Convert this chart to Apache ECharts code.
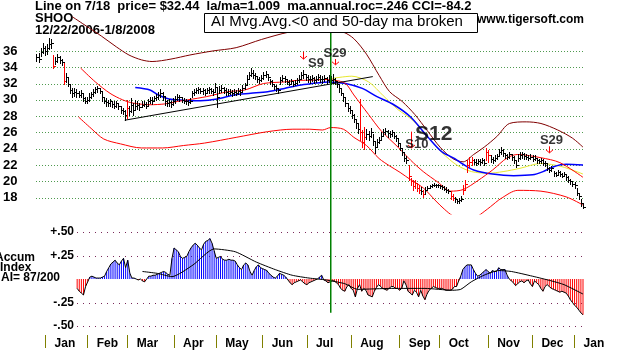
<!DOCTYPE html>
<html><head><meta charset="utf-8">
<script src="https://cdn.jsdelivr.net/npm/echarts@6/dist/echarts.min.js"></script>
<style>html,body{margin:0;padding:0;background:#fff}#c{width:631px;height:352px}</style>
</head><body><div id="c"></div><script>
const FONT = '"Liberation Sans", Arial, sans-serif';

// ---- trading calendar (category axis) ----
const startDate = '2006-12-22', endDate = '2008-01-08';
const holidays = ['2006-12-25','2007-01-01','2007-01-02','2007-01-15','2007-02-19','2007-04-06',
  '2007-05-28','2007-07-04','2007-09-03','2007-11-22','2007-12-25','2008-01-01'];
function tradingDays(){
  const out=[]; let d=new Date(startDate+'T00:00:00Z'); const e=new Date(endDate+'T00:00:00Z');
  while(d<=e){ const s=d.toISOString().slice(0,10); const w=d.getUTCDay();
    if(w!==0&&w!==6&&holidays.indexOf(s)<0) out.push(s); d=new Date(d.getTime()+86400000);}
  return out;
}
const dates = tradingDays();
const monthNames = ['Jan','Feb','Mar','Apr','May','Jun','Jul','Aug','Sep','Oct','Nov','Dec'];

// ---- tick labels ----
const priceTicks = [18,20,22,24,26,28,30,32,34,36];
const accumTicks = [-0.5,-0.25,0.25,0.5];

// ---- daily price bars (one value per trading day) ----
const close = [35.2,35.0,35.9,36.4,36.0,
36.3,36.9,37.0,34.2,34.8,35.2,34.9,34.6,32.3,32.8,32.0,31.2,30.8,31.0,30.9,30.6,30.8,30.2,29.9,30.0,
30.4,30.7,31.0,31.3,31.4,31.1,30.3,29.9,29.7,29.6,29.8,29.5,29.3,29.6,29.2,28.8,28.6,28.2,29.0,
28.6,29.4,28.8,29.2,29.4,29.1,29.4,29.5,29.3,29.8,30.0,29.9,30.2,30.4,30.6,30.9,30.5,29.8,29.6,29.7,29.5,29.8,
30.1,30.4,30.3,30.0,29.9,29.8,29.7,29.9,30.8,31.0,31.2,31.3,31.1,31.2,30.9,31.2,31.3,31.1,31.0,31.6,
30.4,31.2,31.4,31.2,31.0,30.9,31.0,30.8,31.0,30.9,31.1,31.0,31.4,31.8,32.6,33.0,33.3,33.1,32.9,32.6,32.4,32.7,
33.0,33.2,32.8,32.3,32.0,31.7,31.4,31.2,32.4,32.7,32.5,32.2,32.0,32.3,32.0,32.1,32.4,32.6,33.0,33.2,32.8,
32.6,32.5,32.7,32.4,32.5,32.8,32.6,32.5,32.7,32.4,32.6,32.44,32.5,32.3,31.9,31.4,30.9,30.3,29.6,29.0,28.7,
28.2,27.7,27.2,26.4,26.0,24.8,25.4,25.8,25.6,26.0,25.0,24.2,24.8,25.1,25.6,26.0,26.2,25.9,25.8,26.0,25.6,25.3,24.7,
24.1,23.6,22.9,22.6,20.6,20.0,19.4,19.8,19.2,19.0,18.8,18.5,18.9,19.2,19.4,19.5,19.6,19.5,19.5,
19.4,19.3,19.1,19.0,18.8,18.2,18.0,17.8,17.6,17.7,17.9,18.9,19.7,22.0,22.4,22.6,22.4,22.3,22.5,22.4,22.6,22.3,23.6,
23.2,22.8,22.6,22.9,23.1,23.6,23.9,23.5,23.2,23.0,23.3,23.0,22.6,22.0,22.9,23.2,23.3,23.1,23.0,22.9,23.0,
22.8,22.9,22.6,22.5,22.6,22.3,22.2,21.7,21.4,21.6,21.0,20.8,21.1,20.9,20.7,20.9,20.5,20.2,20.0,19.7,
19.5,18.6,18.2,17.4,16.9];
const high = [35.6,35.8,36.4,37.0,36.6,
36.8,37.6,37.5,35.5,35.3,35.6,35.4,35.0,34.5,33.3,32.8,31.9,31.4,31.4,31.3,31.1,31.2,30.7,30.4,30.3,
30.8,31.0,31.3,31.6,31.7,31.5,31.0,30.4,30.2,30.0,30.1,29.9,29.8,29.9,29.6,29.3,29.0,28.8,30.0,
29.2,30.2,29.6,30.0,29.8,29.6,29.8,29.8,29.7,30.1,30.4,30.3,30.5,30.7,31.0,31.3,31.0,30.3,30.0,30.1,29.9,30.2,
30.5,30.7,30.6,30.3,30.2,30.1,30.0,30.2,31.1,31.3,31.5,31.6,31.5,31.5,31.3,31.5,31.6,31.4,31.3,32.1,
31.4,31.7,31.8,31.6,31.4,31.3,31.3,31.2,31.3,31.2,31.4,31.3,31.8,32.1,33.1,33.4,33.9,33.6,33.3,32.9,32.8,33.0,
33.4,33.5,33.2,32.6,32.4,32.0,31.8,31.5,32.8,33.0,32.9,32.6,32.4,32.6,32.3,32.4,32.7,33.0,33.4,33.7,33.2,
33.0,32.9,33.1,32.8,32.9,33.2,33.0,32.9,33.1,32.8,33.0,32.9,33.2,32.7,32.3,31.9,31.4,30.8,30.2,29.6,29.2,
28.6,28.3,27.6,27.2,30.1,26.3,26.7,26.4,26.2,26.5,25.8,25.0,25.2,25.5,26.0,26.4,26.6,26.3,26.2,26.3,26.0,25.7,25.2,
24.6,24.0,23.5,23.1,22.0,20.4,20.2,20.2,19.8,19.5,19.3,19.0,19.3,19.4,19.6,19.7,19.8,19.7,19.7,
19.6,19.5,19.4,19.3,19.1,18.8,18.5,18.1,17.9,18.0,18.2,19.6,20.2,22.6,23.0,23.0,22.8,22.7,22.8,22.7,22.9,22.7,24.1,
23.8,23.2,23.0,23.2,23.4,24.0,24.2,24.0,23.5,23.4,23.6,23.4,23.1,22.6,23.4,23.6,23.6,23.5,23.3,23.2,23.3,
23.2,23.2,22.9,22.8,22.9,22.7,22.5,22.2,21.8,21.9,21.3,21.2,21.4,21.3,21.0,21.2,20.8,20.6,20.3,20.0,
19.9,19.2,18.6,17.8,17.3];
const low = [34.8,34.7,35.4,35.8,35.5,
35.6,36.2,36.4,33.9,34.4,34.7,34.5,34.3,31.9,32.2,31.7,30.8,30.4,30.5,30.4,30.3,30.4,29.9,29.6,29.6,
29.9,30.2,30.5,30.9,31.0,30.8,29.9,29.6,29.3,29.2,29.3,29.1,29.0,29.1,28.9,28.4,28.3,27.5,27.8,
28.2,28.5,28.1,28.8,28.9,28.8,29.1,29.2,29.0,29.4,29.6,29.5,29.8,30.0,30.1,30.4,30.0,29.4,29.2,29.3,29.1,29.4,
29.6,30.0,29.9,29.7,29.6,29.5,29.4,29.6,30.3,30.6,30.8,30.9,30.8,30.7,30.6,30.8,30.9,30.8,30.6,31.0,
29.1,30.8,31.0,30.8,30.6,30.6,30.7,30.5,30.6,30.6,30.7,30.6,31.0,31.3,32.0,32.5,32.9,32.7,32.5,32.2,32.1,32.3,
32.6,32.8,32.4,31.9,31.7,31.3,31.1,30.9,32.0,32.3,32.2,31.9,31.8,31.9,31.7,31.8,32.0,32.2,32.5,32.7,32.4,
32.2,32.1,32.3,32.1,32.2,32.4,32.2,32.1,32.3,32.0,32.2,32.0,32.1,31.9,31.6,31.0,30.6,29.9,29.2,28.6,28.4,
27.8,27.3,26.6,25.9,25.1,24.2,24.0,25.2,25.1,25.4,24.5,23.5,24.3,24.7,25.2,25.6,25.8,25.5,25.4,25.6,25.3,25.0,24.3,
23.8,23.2,22.5,22.2,20.2,19.5,19.0,19.2,18.8,18.6,18.4,18.1,18.5,19.0,19.2,19.3,19.4,19.3,19.3,
19.2,19.1,18.9,18.7,18.6,17.8,17.7,17.5,17.4,17.4,17.6,18.5,19.0,21.2,21.8,22.0,22.1,22.0,22.1,22.0,22.2,22.0,22.6,
22.4,22.4,22.3,22.5,22.7,23.1,23.4,23.1,22.9,22.7,22.9,22.6,22.2,21.8,22.5,22.8,22.9,22.8,22.7,22.6,22.7,
22.5,22.6,22.3,22.2,22.3,22.0,21.9,21.4,21.1,21.3,20.7,20.6,20.8,20.6,20.5,20.6,20.2,19.9,19.7,19.4,
19.2,18.3,17.9,17.0,16.7];
const redDays = [8,13,43,154,155,156,177,178,179,180,181,182,184,197,198,203,204,205,206,207,214,215];

// ---- overlay lines: [trading-day index, value] ----
const upperBand = [[17,40.2],[24,39.0],[31,37.8],[38,36.5],[44,35.5],[50,34.9],[55,34.7],[64,35.0],[73,35.5],[84,36.0],[95,36.4],[107,37.4],[120,38.3],[130,38.6],[140,38.5],[146,38.3],[151,37.5],[157,35.6],[163,33.0],[168,31.0],[174,29.8],[180,28.2],[186,26.2],[192,24.2],[198,22.8],[203,22.4],[208,23.3],[213,24.2],[219,25.5],[225,27.1],[233,27.3],[240,27.1],[248,26.3],[255,25.3],[260,24.2]];
const lowerBand = [[20,27.9],[26,26.5],[32,25.2],[40,24.6],[50,24.1],[60,24.1],[70,24.4],[80,24.7],[95,25.4],[110,26.1],[122,26.4],[130,26.4],[136,26.3],[140,26.6],[146,26.4],[151,25.4],[157,24.4],[163,22.8],[168,21.9],[173,21.1],[178,20.2],[184,19.2],[190,17.6],[194,16.6],[198,15.8],[204,15.3],[209,15.6],[213,16.3],[216,16.9],[221,17.9],[229,18.9],[240,18.8],[252,18.1],[260,17.1]];
const ma21 = [[21,33.9],[28,32.2],[35,30.8],[41,30.0],[46,29.6],[54,29.4],[61,29.5],[67,29.8],[72,30.0],[81,30.4],[91,31.0],[99,31.2],[108,32.0],[118,32.2],[125,32.4],[131,32.4],[136,32.5],[142,32.4],[147,32.0],[151,30.6],[158,28.2],[164,26.2],[172,24.2],[178,22.6],[184,21.2],[191,19.9],[197,18.8],[203,19.0],[210,20.1],[217,21.4],[224,22.9],[229,23.3],[240,22.9],[249,22.3],[260,20.5]];
const ma50 = [[47,31.5],[54,31.2],[58,30.6],[63,30.1],[67,30.0],[72,29.9],[78,29.9],[86,30.1],[94,30.6],[102,30.8],[110,31.0],[118,31.4],[125,31.8],[131,32.0],[139,32.2],[147,32.0],[155,31.4],[162,30.4],[170,29.4],[178,27.9],[186,25.5],[193,23.6],[199,22.8],[203,22.1],[208,21.4],[217,20.9],[227,20.7],[236,20.8],[241,21.2],[246,21.8],[252,22.1],[260,22.0]];
const yellowLine = [[140,32.6],[150,32.9],[158,32.2],[165,30.5],[172,28.8],[179,27.5],[186,25.5],[193,23.5],[200,22.0],[207,21.2],[215,21.0],[222,21.2],[230,21.6],[240,22.2],[250,21.8],[260,20.9]];
const trendLine = [[42,27.5],[160,32.85]];
const markerDay = 140, markerTop = 38.3, markerBottom = 3.9;

// ---- signals ----
const signalText  = ['S9','S29','S12','S10','S29'];
const signalDay   = [133,142,189,181,245];
const signalPrice = [34.5,35.7,25.75,24.5,25.0];
const signalSize  = [13,13,21,13,13];
const arrowDay    = [127,142,178,244];
const arrowTop    = [35.9,35.0,26.1,24.3];
const arrowBottom = [35.0,34.3,24.1,23.5];

// ---- accumulation index ----
const accum = [null,null,null,null,null,null,null,null,null,null,null,null,null,null,null,null,null,null,null,null,
-0.10,-0.13,-0.15,-0.17,-0.08,-0.03,0.02,0.03,0.02,0.01,0.01,0.01,0.02,0.03,0.08,0.12,0.16,0.18,0.20,0.17,
0.15,0.19,0.22,0.12,0.20,0.06,0.01,0.01,0.00,-0.01,0.00,-0.02,-0.03,0.00,0.03,0.03,0.04,0.04,0.05,0.06,
0.07,0.08,0.07,0.05,0.04,0.22,0.33,0.31,0.29,0.24,0.22,0.23,0.24,0.29,0.33,0.36,0.38,0.36,0.33,0.31,
0.37,0.40,0.41,0.43,0.38,0.30,0.22,0.23,0.24,0.21,0.20,0.20,0.21,0.20,0.20,0.19,0.15,0.12,0.10,0.15,
0.17,0.15,0.08,0.04,0.09,0.13,0.15,0.12,0.11,0.10,0.09,0.06,0.04,0.02,0.01,0.03,0.06,0.05,0.04,0.02,
-0.01,-0.04,-0.06,-0.04,-0.03,-0.02,-0.01,-0.03,-0.05,-0.06,-0.04,-0.03,-0.02,-0.01,0.00,0.02,0.04,-0.01,-0.02,-0.04,
-0.03,-0.02,-0.02,-0.04,-0.06,-0.10,-0.12,-0.13,-0.08,-0.06,-0.10,-0.12,-0.19,-0.10,-0.06,-0.13,-0.10,-0.12,-0.17,-0.18,
-0.19,-0.13,-0.09,-0.06,-0.08,-0.10,-0.11,-0.12,-0.10,-0.08,-0.08,-0.10,-0.10,-0.12,-0.10,-0.02,-0.06,-0.13,-0.15,-0.17,
-0.12,-0.14,-0.19,-0.12,-0.18,-0.22,-0.16,-0.12,-0.10,-0.08,-0.09,-0.10,-0.10,-0.10,-0.11,-0.12,-0.12,-0.12,-0.11,-0.08,
-0.08,-0.02,0.03,0.10,0.13,0.15,0.15,0.15,0.10,0.06,0.03,0.04,0.06,0.08,0.10,0.08,0.06,0.09,0.08,0.08,
0.12,0.10,0.10,0.10,0.04,0.00,-0.02,-0.04,-0.07,-0.05,-0.03,-0.02,-0.04,-0.02,-0.01,-0.05,-0.08,-0.02,-0.04,-0.06,
-0.10,-0.13,-0.08,-0.06,-0.08,-0.10,-0.11,-0.12,-0.13,-0.14,-0.13,-0.14,-0.15,-0.18,-0.22,-0.25,-0.28,-0.30,-0.33,-0.36,
-0.38];
const accumMA = [[51,0.08],[58,0.06],[65,0.025],[75,0.15],[85,0.32],[95,0.29],[105,0.18],[114,0.10],[122,0.04],[130,0.01],[138,-0.01],[147,-0.05],[153,-0.11],[169,-0.10],[185,-0.10],[198,-0.12],[202,-0.11],[207,-0.03],[213,0.04],[220,0.09],[226,0.08],[236,0.03],[245,-0.02],[251,-0.06],[260,-0.16]];
const accumStart = 20;

// ---- helpers ----
const pts = arr => arr.map(p => [dates[p[0]], p[1]]);
const isMonthStart = i => i > 0 && dates[i].slice(5,7) !== dates[i-1].slice(5,7);
const lineS = (data, color, width, extra) => Object.assign({
  type:'line', xAxisIndex:0, yAxisIndex:0, data: pts(data), showSymbol:false, symbol:'none',
  smooth:0.3, lineStyle:{color, width}, silent:true, z:2
}, extra||{});
// dotted horizontal gridlines snapped to the pixel grid, positioned through the axis scales
const gridLines = (axisIdx, values, fromIdx, color, dash) => ({
  type:'custom', xAxisIndex:axisIdx, yAxisIndex:axisIdx, silent:true, z:1,
  data: values.map(v=>[fromIdx, v]), encode:{x:0, y:1},
  renderItem:(params, api)=>{
    const a = api.coord([fromIdx, api.value(1)]), b = api.coord([dates.length-1, api.value(1)]);
    const y = Math.round(a[1]) + 0.5;
    return {type:'line', shape:{x1:Math.round(a[0]), y1:y, x2:Math.round(b[0]), y2:y},
      style:{stroke:color, lineWidth:1, lineDash:dash}};
  }
});

const chart = echarts.init(document.getElementById('c'), null, {renderer:'canvas'});
chart.setOption({
  animation:false,
  backgroundColor:'#fff',
  grid:[
    {left:35, right:48, top:2, height:212},
    {left:35, right:48, top:232, height:94}
  ],
  xAxis:[
    {type:'category', gridIndex:0, data:dates, boundaryGap:false,
      axisLine:{show:false, onZero:false}, axisTick:{show:false}, axisLabel:{show:false}, splitLine:{show:false}},
    {type:'category', gridIndex:1, data:dates, boundaryGap:false, offset:9, position:'bottom',
      axisLine:{show:false, onZero:false},
      axisTick:{show:true, interval:(i)=>isMonthStart(i), length:13, lineStyle:{color:'#808000', width:1}},
      axisLabel:{show:true, interval:(i)=>isMonthStart(i), formatter:(v)=>monthNames[+v.slice(5,7)-1],
        align:'left', padding:[0,0,0,9], margin:3, fontWeight:'bold', fontSize:12, color:'#000', fontFamily:FONT},
      splitLine:{show:false}}
  ],
  yAxis:[
    {type:'value', gridIndex:0, min:16, max:42, interval:2,
      axisLine:{show:false}, axisTick:{show:false}, splitLine:{show:false},
      axisLabel:{formatter:(v)=> priceTicks.indexOf(v)>=0 ? String(v) : '', margin:19,
        fontWeight:'bold', fontSize:13, color:'#000', fontFamily:FONT}},
    {type:'value', gridIndex:1, min:-0.5, max:0.5, interval:0.25, offset:-42,
      axisLine:{show:false}, axisTick:{show:false}, splitLine:{show:false},
      axisLabel:{formatter:(v)=> accumTicks.indexOf(v)>=0 ? ((v>0?'+':'-')+'.'+String(Math.round(Math.abs(v)*100)).padStart(2,'0')) : '',
        margin:3, fontWeight:'bold', fontSize:12, color:'#000', fontFamily:FONT}}
  ],
  series:[
    gridLines(0, priceTicks, 0, '#4f9a4f', [1,2]),
    gridLines(1, accumTicks, accumStart, '#7a2a5a', [1,5]),
    lineS(upperBand, '#800000', 1),
    lineS(lowerBand, '#ff0000', 1),
    lineS(yellowLine, '#e8e830', 1),
    lineS(ma50, '#0000ff', 1.5),
    lineS(ma21, '#ff0000', 1),
    lineS(trendLine, '#000000', 1, {smooth:false}),
    {type:'custom', xAxisIndex:0, yAxisIndex:0, z:3, silent:true,
      data: dates.map((d,i)=>[i, high[i], low[i], close[i], redDays.indexOf(i)>=0?1:0]),
      encode:{x:0, y:[1,2,3]},
      renderItem:(params, api)=>{
        const i = api.value(0);
        const h = api.coord([i, api.value(1)]), l = api.coord([i, api.value(2)]), c = api.coord([i, api.value(3)]);
        const col = api.value(4) ? '#ff0000' : '#000000';
        const x = Math.round(h[0]) + 0.5, cy = Math.round(c[1]) + 0.5;
        return {type:'group', children:[
          {type:'line', shape:{x1:x, y1:Math.round(h[1]), x2:x, y2:Math.round(l[1])+1}, style:{stroke:col, lineWidth:1}},
          {type:'line', shape:{x1:x, y1:cy, x2:x+2.5, y2:cy}, style:{stroke:col, lineWidth:1}}
        ]};
      }},
    {type:'line', xAxisIndex:0, yAxisIndex:0, clip:false, silent:true, symbol:'none', z:4,
      data:[[dates[markerDay], markerTop],[dates[markerDay], markerBottom]],
      lineStyle:{color:'#008000', width:1.5}},
    {type:'custom', xAxisIndex:0, yAxisIndex:0, z:5, silent:true,
      data: arrowDay.map((d,k)=>[d, arrowTop[k], arrowBottom[k]]),
      encode:{x:0, y:[1,2]},
      renderItem:(params, api)=>{
        const t = api.coord([api.value(0), api.value(1)]), b = api.coord([api.value(0), api.value(2)]);
        const x = Math.round(t[0]) + 0.5;
        return {type:'group', children:[
          {type:'line', shape:{x1:x, y1:t[1], x2:x, y2:b[1]}, style:{stroke:'#ff0000', lineWidth:1}},
          {type:'polyline', shape:{points:[[x-3.5,b[1]-3],[x,b[1]],[x+3.5,b[1]-3]]}, style:{stroke:'#ff0000', fill:null, lineWidth:1}}
        ]};
      }},
    {type:'scatter', xAxisIndex:0, yAxisIndex:0, z:6, silent:true, symbolSize:0,
      data: signalText.map((s,k)=>({value:[dates[signalDay[k]], signalPrice[k]],
        label:{show:true, formatter:s, position:'inside', align:'center', verticalAlign:'middle',
          fontSize:signalSize[k], fontWeight:'bold', color:'#000', fontFamily:FONT}}))},
    // accumulation panel
    {type:'bar', xAxisIndex:1, yAxisIndex:1, barWidth:1, silent:true, z:2,
      data: accum,
      itemStyle:{color:(p)=> p.value >= 0 ? '#0000ff' : '#ff0000'}},
    {type:'line', xAxisIndex:1, yAxisIndex:1, data:accum, symbol:'none', showSymbol:false, silent:true, z:3,
      lineStyle:{color:'#000', width:1}},
    {type:'line', xAxisIndex:1, yAxisIndex:1, data:pts(accumMA), symbol:'none', showSymbol:false, silent:true, z:3,
      smooth:0.2, lineStyle:{color:'#000', width:1}}
  ],
  graphic:[
    {type:'text', left:35, top:0, style:{text:'Line on 7/18  price= $32.44  la/ma=1.009  ma.annual.roc=.246 CCI=-84.2', font:'bold 13px '+FONT, fill:'#000'}},
    {type:'text', left:35, top:12, style:{text:'SHOO', font:'bold 13px '+FONT, fill:'#000'}},
    {type:'text', left:35, top:24, style:{text:'12/22/2006-1/8/2008', font:'bold 13px '+FONT, fill:'#000'}},
    {type:'rect', left:204, top:13, shape:{width:273, height:19}, style:{fill:'#fff', stroke:'#000', lineWidth:1}, z:10},
    {type:'text', left:211, top:14, z:11, style:{text:'AI Mvg.Avg.<0 and 50-day ma broken', font:'15px '+FONT, fill:'#000'}},
    {type:'text', left:477, top:14, style:{text:'www.tigersoft.com', font:'bold 12px '+FONT, fill:'#000'}},
    {type:'text', left:-5, top:252, style:{text:'Accum', font:'bold 12px '+FONT, fill:'#000'}},
    {type:'text', left:0, top:262, style:{text:'Index', font:'bold 12px '+FONT, fill:'#000'}},
    {type:'text', left:1, top:272, style:{text:'AI= 87/200', font:'bold 12px '+FONT, fill:'#000'}}
  ]
});
</script></body></html>
